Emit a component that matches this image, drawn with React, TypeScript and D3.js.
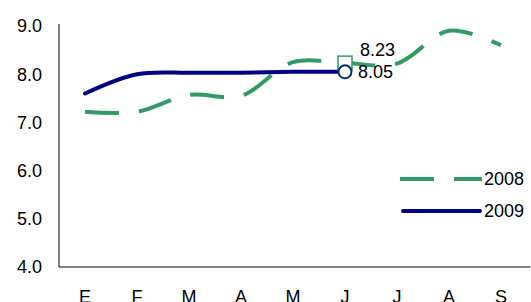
import React from 'react';
import * as d3 from 'd3';

const months = ['E', 'F', 'M', 'A', 'M', 'J', 'J', 'A', 'S'];
const values2008 = [7.22, 7.22, 7.57, 7.55, 8.25, 8.23, 8.22, 8.9, 8.6];
const values2009 = [7.6, 8.0, 8.03, 8.03, 8.05, 8.05];
const yTicks = [4, 5, 6, 7, 8, 9];

const GREEN = '#339966';
const NAVY = '#000080';
const FONT = 'Liberation Sans, Arial, sans-serif';

const App: React.FC = () => {
  const width = 531;
  const height = 302;
  const left = 59;
  const right = 527;
  const top = 26;
  const bottom = 267;

  const x = d3.scaleBand<number>()
    .domain(months.map((_, i) => i))
    .range([left, right]);
  const cx = (i: number) => (x(i) as number) + x.bandwidth() / 2;

  const y = d3.scaleLinear().domain([4, 9]).range([bottom, top]);

  const line = d3.line<number>()
    .x((_, i) => cx(i))
    .y(d => y(d))
    .curve(d3.curveCatmullRom.alpha(0.5));

  const last = 5;

  return (
    <svg width={width} height={height} style={{ position: 'absolute', left: 0, top: 0 }} fontFamily={FONT}>
      <rect width={width} height={height} fill="#fff" />
      <line x1={left} x2={left} y1={top - 2} y2={bottom} stroke="#000" strokeWidth={1} />
      <line x1={left} x2={530} y1={bottom} y2={bottom} stroke="#000" strokeWidth={1} />
      {yTicks.map(t => (
        <text key={t} x={42} y={y(t)} dy="0.35em" textAnchor="end" fontSize={18}>
          {t.toFixed(1)}
        </text>
      ))}
      {months.map((m, i) => (
        <text key={i} x={cx(i)} y={303} textAnchor="middle" fontSize={18}>
          {m}
        </text>
      ))}
      <path d={line(values2008) || ''} fill="none" stroke={GREEN} strokeWidth={4} strokeDasharray="34 20" />
      <path d={line(values2009) || ''} fill="none" stroke={NAVY} strokeWidth={4} strokeLinecap="round" />
      <rect x={cx(last) - 7} y={y(values2008[last]) - 7} width={14} height={14} fill="#fff" stroke={GREEN} strokeWidth={1.5} />
      <circle cx={cx(last)} cy={y(values2009[last])} r={6.5} fill="#fff" stroke="#003366" strokeWidth={2} />
      <text x={cx(last) + 15} y={y(values2008[last]) - 13} dy="0.35em" fontSize={18}>
        {values2008[last].toFixed(2)}
      </text>
      <text x={cx(last) + 13} y={y(values2009[last])} dy="0.35em" fontSize={18}>
        {values2009[last].toFixed(2)}
      </text>
      <line x1={400} x2={482} y1={179} y2={179} stroke={GREEN} strokeWidth={4} strokeDasharray="34 20" />
      <text x={484} y={179} dy="0.35em" fontSize={18}>2008</text>
      <line x1={403} x2={480} y1={211} y2={211} stroke={NAVY} strokeWidth={4} strokeLinecap="round" />
      <text x={484} y={211} dy="0.35em" fontSize={18}>2009</text>
    </svg>
  );
};

export default App;
